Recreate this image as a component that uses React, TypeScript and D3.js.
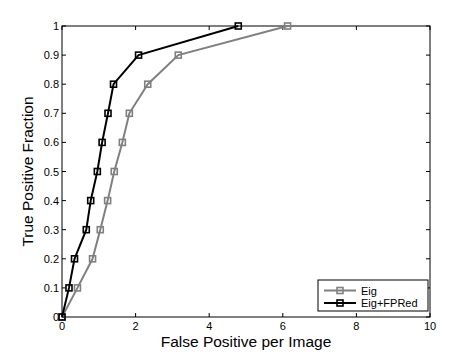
import React from "react";
import * as d3 from "d3";

const eigX = [0, 0.42, 0.83, 1.04, 1.24, 1.42, 1.64, 1.83, 2.33, 3.16, 6.13];
const eigY = [0, 0.1, 0.2, 0.3, 0.4, 0.5, 0.6, 0.7, 0.8, 0.9, 1.0];
const fpX = [0, 0.19, 0.34, 0.66, 0.78, 0.96, 1.09, 1.25, 1.4, 2.08, 4.79];
const fpY = [0, 0.1, 0.2, 0.3, 0.4, 0.5, 0.6, 0.7, 0.8, 0.9, 1.0];
const xTicks = [0, 2, 4, 6, 8, 10];
const yTicks = [0, 0.1, 0.2, 0.3, 0.4, 0.5, 0.6, 0.7, 0.8, 0.9, 1];
const seriesNames = ["Eig", "Eig+FPRed"];
const seriesColors = ["#808080", "#000000"];

export default function App() {
  const W = 476, H = 357;
  const L = 62, R = 430, T = 26, B = 317;
  const x = d3.scaleLinear().domain([0, 10]).range([L, R]);
  const y = d3.scaleLinear().domain([0, 1]).range([B, T]);
  const font = "'Liberation Sans', Arial, Helvetica, sans-serif";
  const series = [
    { xs: eigX, ys: eigY },
    { xs: fpX, ys: fpY },
  ];
  const line = d3.line<[number, number]>().x(d => x(d[0])).y(d => y(d[1]));
  const tl = 4;
  const ms = 6;
  return (
    <svg width={W} height={H} style={{ position: "absolute", left: 0, top: 0, background: "#fff" }}>
      <rect x={0} y={0} width={W} height={H} fill="#fff" />
      <rect x={L} y={T} width={R - L} height={B - T} fill="#fff" stroke="#000" strokeWidth={1} />
      {xTicks.map(t => (
        <g key={"x" + t}>
          <line x1={x(t)} x2={x(t)} y1={B} y2={B - tl} stroke="#000" />
          <line x1={x(t)} x2={x(t)} y1={T} y2={T + tl} stroke="#000" />
          <text x={x(t)} y={B + 13} textAnchor="middle" fontSize={11} fontFamily={font}>{t}</text>
        </g>
      ))}
      {yTicks.map(t => (
        <g key={"y" + t}>
          <line x1={L} x2={L + tl} y1={y(t)} y2={y(t)} stroke="#000" />
          <line x1={R} x2={R - tl} y1={y(t)} y2={y(t)} stroke="#000" />
          <text x={L - 3} y={y(t) + 4} textAnchor="end" fontSize={11} fontFamily={font}>{t}</text>
        </g>
      ))}
      {series.map((s, i) => {
        const pts: [number, number][] = s.xs.map((v, j) => [v, s.ys[j]]);
        return (
          <g key={"s" + i}>
            <path d={line(pts) || ""} fill="none" stroke={seriesColors[i]} strokeWidth={2} />
            {pts.map((p, j) => (
              <rect key={j} x={x(p[0]) - ms / 2} y={y(p[1]) - ms / 2} width={ms} height={ms}
                fill="none" stroke={seriesColors[i]} strokeWidth={1.6} />
            ))}
          </g>
        );
      })}
      <rect x={318} y={280} width={110} height={31} fill="#fff" stroke="#000" strokeWidth={1} />
      {seriesNames.map((n, i) => {
        const ly = 290.5 + i * 12.5;
        return (
          <g key={"l" + i}>
            <line x1={324} x2={356} y1={ly} y2={ly} stroke={seriesColors[i]} strokeWidth={2} />
            <rect x={340 - ms / 2} y={ly - ms / 2} width={ms} height={ms} fill="none" stroke={seriesColors[i]} strokeWidth={1.6} />
            <text x={361} y={ly + 4} fontSize={11} fontFamily={font}>{n}</text>
          </g>
        );
      })}
      <text x={(L + R) / 2} y={347} textAnchor="middle" fontSize={15.5} fontFamily={font}>False Positive per Image</text>
      <text transform={`translate(33,${(T + B) / 2}) rotate(-90)`} textAnchor="middle" fontSize={15.5} fontFamily={font}>True Positive Fraction</text>
    </svg>
  );
}
